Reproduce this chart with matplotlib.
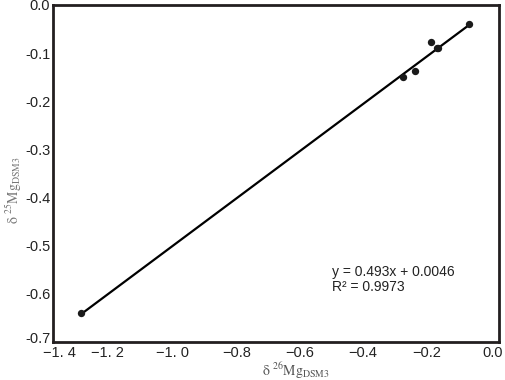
import numpy as np
import matplotlib.pyplot as plt
from matplotlib import transforms

# данные
d26 = [-1.312, -0.302, -0.262, -0.213, -0.196, -0.191, -0.093]
d25 = [-0.640, -0.149, -0.138, -0.078, -0.089, -0.089, -0.039]

# линия регрессии (из подписи)
slope, icpt = 0.493, 0.0046
eq_text = 'y = 0.493x + 0.0046\nR² = 0.9973'

xticks = [-1.4, -1.2, -1.0, -0.8, -0.6, -0.4, -0.2, 0.0]
xlabels = ['\u22121. 4', '\u22121. 2', '\u22121. 0', '\u22120.8', '\u22120.6', '\u22120.4', '\u22120.2', '0.0']
yticks = [0.0, -0.1, -0.2, -0.3, -0.4, -0.5, -0.6, -0.7]
ylabels = ['0.0', '-0.1', '-0.2', '-0.3', '-0.4', '-0.5', '-0.6', '-0.7']

plt.rcParams['font.family'] = ['Liberation Sans', 'DejaVu Sans']
plt.rcParams['mathtext.fontset'] = 'stix'

fig = plt.figure(figsize=(5.05, 3.8), dpi=100)
ax = fig.add_axes([0.105, 0.1, 0.883, 0.887])

xs = np.array([min(d26), max(d26)])
ax.plot(xs, slope * xs + icpt, color='black', lw=1.6, zorder=2)
ax.scatter(d26, d25, s=28, color='#1a1a1a', zorder=3, linewidths=0)

ax.set_xlim(-1.4, 0.0)
ax.set_ylim(-0.7, 0.0)
ax.set_xticks(xticks)
ax.set_xticklabels(xlabels, fontsize=10.5, color='#222222')
ax.set_yticks(yticks)
ax.set_yticklabels(ylabels, fontsize=10.5, color='#222222')
ax.tick_params(axis='y', length=0, pad=2)
ax.tick_params(axis='x', length=0, pad=3)
# подписи оси x сдвинуты как на оригинале (в пикселях)
shifts = [6, -9, -8, -7, -8, -9, -9, -6]
for lab, dx in zip(ax.get_xticklabels(), shifts):
    off = transforms.ScaledTranslation(dx / 100, 0, fig.dpi_scale_trans)
    lab.set_transform(lab.get_transform() + off)
# "-0.7" чуть выше, чтобы не наезжать на "-1.4"
ylab = ax.get_yticklabels()[-1]
ylab.set_transform(ylab.get_transform() + transforms.ScaledTranslation(0, 3 / 100, fig.dpi_scale_trans))
ylab.set_va('center')

for sp in ax.spines.values():
    sp.set_linewidth(2)
    sp.set_color('#231f20')

fig.text(0.586, 0.012, r'$\mathrm{\delta\ ^{26}Mg_{DSM3}}$', fontsize=10,
         ha='center', va='baseline', color='#555555')
fig.text(0.008, 0.5, r'$\mathrm{\delta\ ^{25}Mg_{DSM3}}$', fontsize=10,
         ha='left', va='center', rotation=90, color='#777777')

ax.text(-0.524, -0.54, eq_text, fontsize=10, ha='left', va='top', linespacing=1.1, color='#222222')

fig.savefig('out.png', dpi=100)
